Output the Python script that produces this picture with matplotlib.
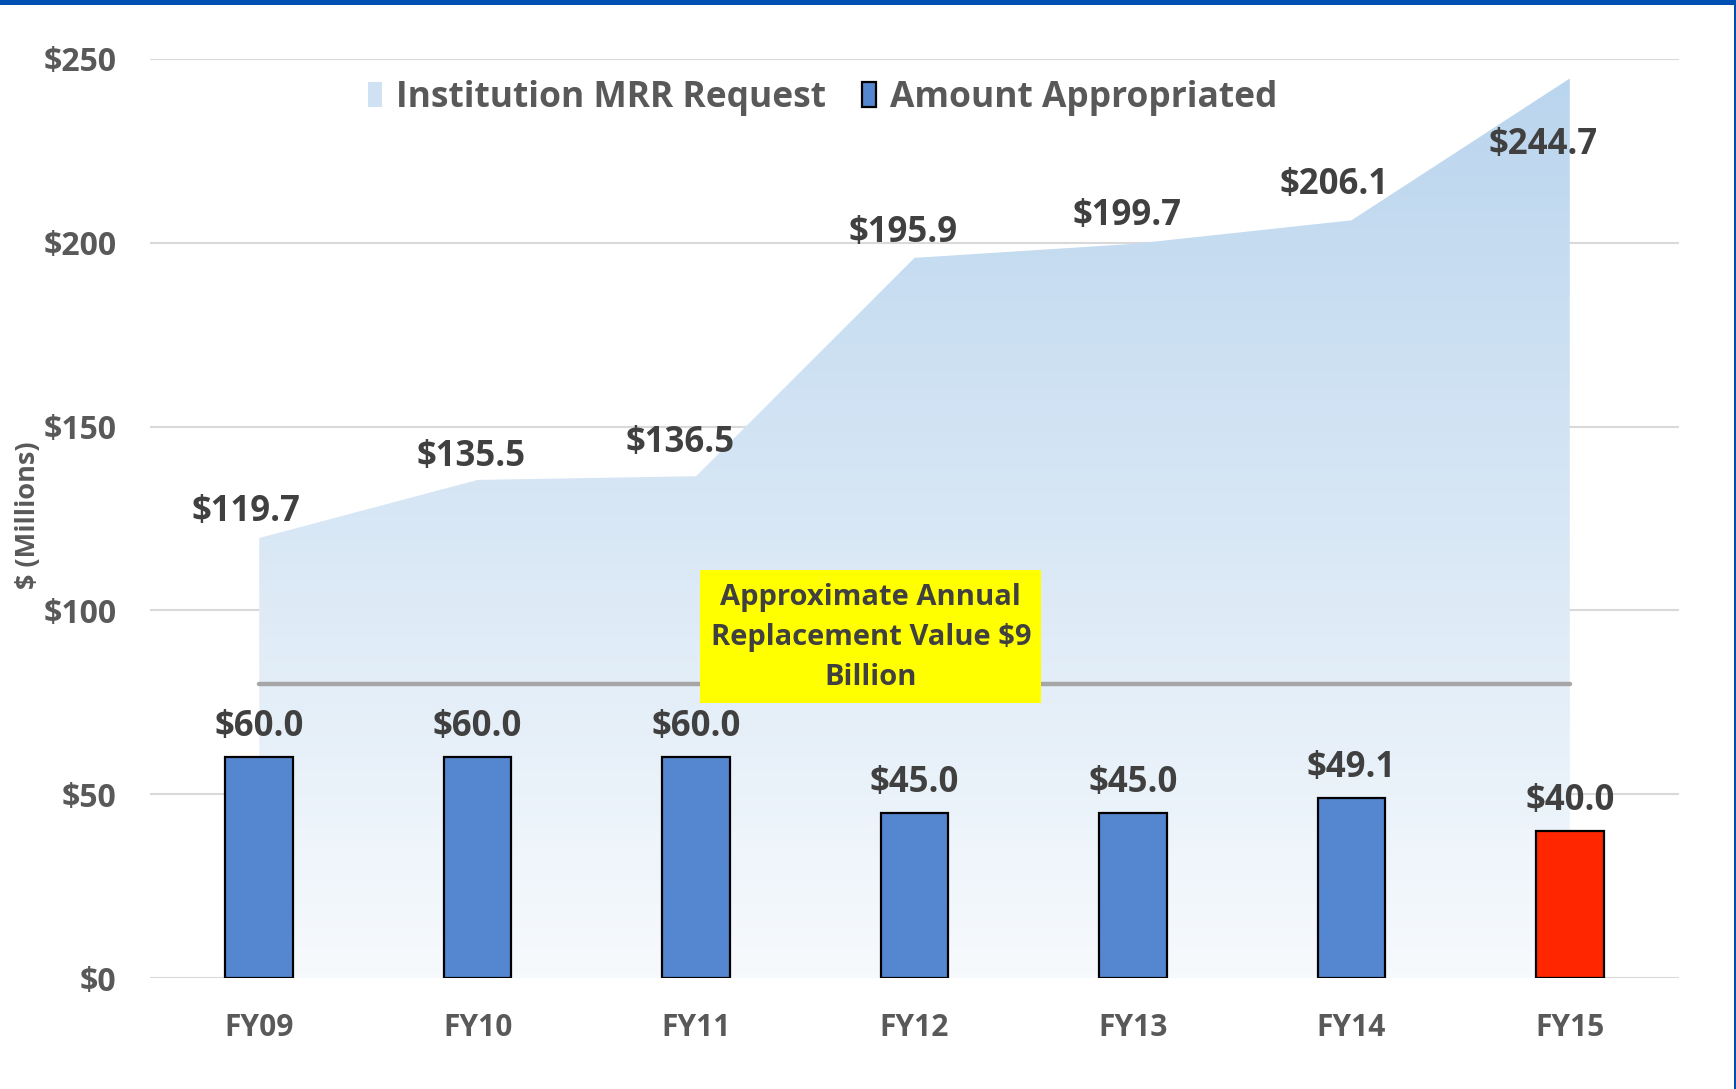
import matplotlib.pyplot as plt
import numpy as np
from matplotlib.patches import Rectangle, Patch
from matplotlib.colors import LinearSegmentedColormap

# data
years = ['FY09', 'FY10', 'FY11', 'FY12', 'FY13', 'FY14', 'FY15']
mrr_request = [119.7, 135.5, 136.5, 195.9, 199.7, 206.1, 244.7]
appropriated = [60.0, 60.0, 60.0, 45.0, 45.0, 49.1, 40.0]
replacement_level = 80
yticks = [0, 50, 100, 150, 200, 250]

plt.rcParams['font.family'] = ['Open Sans', 'DejaVu Sans']
plt.rcParams['font.weight'] = 'bold'

TICK = '#595959'
LABEL = '#404040'

fig = plt.figure(figsize=(17.36, 10.89), dpi=100)
ax = fig.add_axes([150 / 1736, 1 - 978 / 1089, 1529 / 1736, 919 / 1089])

x = np.arange(len(years))

# gradient area for the requests
poly = ax.fill_between(x, 0, mrr_request, color='none', zorder=2)
cmap = LinearSegmentedColormap.from_list('req', ['#f7fafd', '#bad5ee'])
grad = np.linspace(0, 1, 256).reshape(-1, 1)
img = ax.imshow(grad, cmap=cmap, origin='lower', aspect='auto',
                extent=[x[0], x[-1], 0, max(mrr_request)], zorder=2)
img.set_clip_path(poly.get_paths()[0], transform=ax.transData)

# replacement value line
ax.hlines(replacement_level, x[0], x[-1], color='#a6a6a6', lw=3.2,
          capstyle='round', zorder=3)

# bars
colors = ['#5587d0'] * (len(years) - 1) + ['#ff2600']
ax.bar(x, appropriated, width=0.31, color=colors, edgecolor='black',
       linewidth=1.6, zorder=4)

# labels on the area
offsets = [(-13, 26), (-7, 23), (-16, 33), (-11, 25), (-6, 28), (-17, 35), (-27, -67)]
for xi, v, off in zip(x, mrr_request, offsets):
    ax.annotate(f'${v:.1f}', (xi, v), xytext=off, textcoords='offset pixels',
                ha='center', va='center', fontsize=25, color=LABEL,
                fontweight='bold', zorder=6)
for xi, v in zip(x, appropriated):
    ax.annotate(f'${v:.1f}', (xi, v), xytext=(0, 30), textcoords='offset pixels',
                ha='center', va='center', fontsize=25, color=LABEL,
                fontweight='bold', zorder=6)

# yellow note box
ax.add_patch(Rectangle((2.02, 74.8), 1.56, 36.2, facecolor='#ffff00',
                       edgecolor='none', zorder=5))
ax.text(2.8, 92.5, 'Approximate Annual\nReplacement Value $9\nBillion', ha='center',
        va='center', fontsize=21, color=LABEL, fontweight='bold',
        linespacing=1.5, zorder=6)

ax.set_xlim(-0.5, len(years) - 0.5)
ax.set_ylim(0, 250)
ax.set_yticks(yticks)
ax.set_yticklabels([f'${t}' for t in yticks])
ax.set_xticks(x)
ax.set_xticklabels(years)
ax.tick_params(axis='y', length=0, pad=24, labelsize=23, labelcolor=TICK)
ax.tick_params(axis='x', length=0, pad=25, labelsize=21.5, labelcolor=TICK)
for s in ax.spines.values():
    s.set_visible(False)
ax.grid(axis='y', color='#d9d9d9', lw=1.5, zorder=0)
ax.set_axisbelow(True)
ax.set_ylabel('$ (Millions)', fontsize=19.5, color=TICK, fontweight='bold')
ax.yaxis.set_label_coords(-0.071, 0.504)

handles = [Patch(facecolor='#cfe1f3', edgecolor='none', label='Institution MRR Request'),
           Patch(facecolor='#5587d0', edgecolor='black', linewidth=1.6,
                 label='Amount Appropriated')]
leg = ax.legend(handles=handles, loc='center', bbox_to_anchor=(0.44, 0.958), ncol=2,
                frameon=False, fontsize=25.5, handlelength=0.4, handleheight=0.7,
                handletextpad=0.4, columnspacing=1.0)
for t in leg.get_texts():
    t.set_color(TICK)

# blue frame on top and right
fig.patches.append(Rectangle((0, 1 - 5 / 1089), 1, 5 / 1089, transform=fig.transFigure,
                             facecolor='#0050b4', edgecolor='none'))
fig.patches.append(Rectangle((1 - 2 / 1736, 0), 2 / 1736, 1, transform=fig.transFigure,
                             facecolor='#0050b4', edgecolor='none'))

fig.savefig('out.png', dpi=100)
